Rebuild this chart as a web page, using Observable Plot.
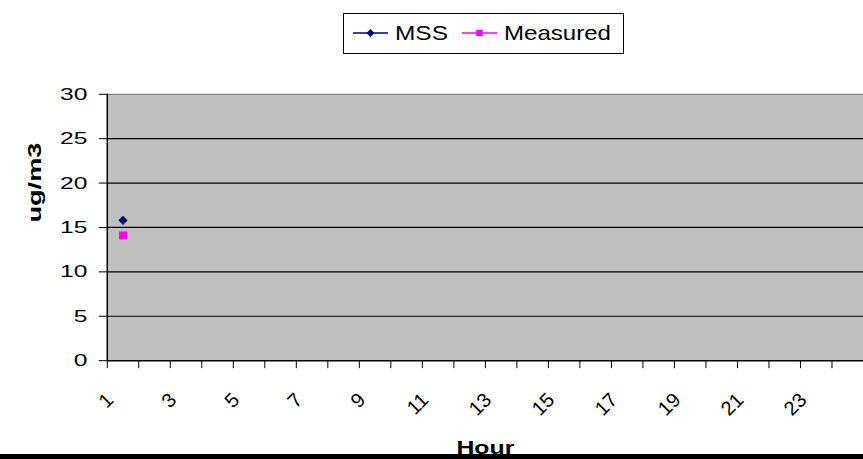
<!DOCTYPE html>
<html><head><meta charset="utf-8">
<script src="https://cdn.jsdelivr.net/npm/d3@7"></script>
<script src="https://cdn.jsdelivr.net/npm/@observablehq/plot@0.6"></script>
<style>
html,body{margin:0;padding:0;background:#fff;overflow:hidden;width:863px;height:459px}
#wrap{position:relative;width:863px;height:459px;overflow:hidden;font-family:'Liberation Sans',Arial,sans-serif}
#chart{position:absolute;left:0;top:0}
#legend{position:absolute;left:343px;top:13px}
#bar{position:absolute;left:0;top:454px;width:863px;height:5px;background:#000}
</style></head><body>
<div id="wrap"><div id="chart"></div><div id="legend"></div><div id="bar"></div></div>
<script>
const hours = [1,2,3,4,5,6,7,8,9,10,11,12,13,14,15,16,17,18,19,20,21,22,23,24];
const hourLabels = [1,3,5,7,9,11,13,15,17,19,21,23];
const yTicks = [0,5,10,15,20,25,30];
const seriesNames = ["MSS","Measured"];
const seriesColors = ["#000080","#ff00ff"];
const seriesSymbols = ["diamond2","square"];
const mssHours = [1];
const mssValues = [15.8];
const measuredHours = [1];
const measuredValues = [14.1];
const xLabel = "Hour";
const yLabel = "ug/m3";

const boundaries = hours.map(h => h - 0.5).concat([hours[hours.length-1] + 0.5]);
const mssData = mssHours.map((h,i) => ({hour:h, value:mssValues[i]}));
const measData = measuredHours.map((h,i) => ({hour:h, value:measuredValues[i]}));

const plot = Plot.plot({
  width: 865, height: 459,
  marginLeft: 107, marginRight: 0, marginTop: 94, marginBottom: 98,
  style: {fontFamily: "'Liberation Sans', Arial, sans-serif", background: "transparent", overflow: "visible", color: "#000"},
  x: {type: "linear", domain: [boundaries[0], boundaries[boundaries.length-1]]},
  y: {domain: [0, 30]},
  marks: [
    Plot.frame({fill: "#c0c0c0", stroke: null}),
    Plot.ruleY(yTicks.filter(v => v > 0 && v < 30), {stroke: "#000", strokeWidth: 1.2}),
    Plot.ruleY([30], {stroke: "#808080", strokeWidth: 1.2}),
    Plot.axisY({ticks: yTicks, tickSize: 8, tickPadding: 12, fontSize: 17, label: null}),
    Plot.axisX({ticks: boundaries, tickSize: 8, tickFormat: () => "", label: null}),
    Plot.ruleX([boundaries[0]], {stroke: "#000", strokeWidth: 1.5}),
    Plot.ruleY([0], {stroke: "#000", strokeWidth: 1.5}),
    Plot.text(hourLabels, {x: d => d, frameAnchor: "bottom", dy: 36, dx: -13, rotate: -45, textAnchor: "end", lineAnchor: "middle", fontSize: 20}),
    Plot.dot(mssData, {x: "hour", y: "value", symbol: () => seriesSymbols[0], r: 4.2, fill: seriesColors[0], stroke: null}),
    Plot.dot(measData, {x: "hour", y: "value", symbol: () => seriesSymbols[1], r: 4.5, fill: seriesColors[1], stroke: null}),
    Plot.text([xLabel], {frameAnchor: "bottom", dy: 94, fontWeight: "bold", fontSize: 18, lineAnchor: "bottom", className: "xlab"}),
    Plot.text([yLabel], {frameAnchor: "left", dx: -72, dy: -5, rotate: -90, fontWeight: "bold", fontSize: 18, className: "ylab"})
  ]
});
document.getElementById("chart").appendChild(plot);

// widen axis text to match the reference's stretched glyphs
d3.select(plot).selectAll('g[aria-label="y-axis tick label"] text').each(function() {
  const len = this.getComputedTextLength();
  this.setAttribute("textLength", len * 1.45);
  this.setAttribute("lengthAdjust", "spacingAndGlyphs");
});
d3.select(plot).selectAll('.xlab text').each(function() {
  this.setAttribute("textLength", 58);
  this.setAttribute("lengthAdjust", "spacingAndGlyphs");
});
d3.select(plot).selectAll('.ylab text').each(function() {
  this.setAttribute("textLength", 80);
  this.setAttribute("lengthAdjust", "spacingAndGlyphs");
});

// legend
const lg = d3.select("#legend").append("svg").attr("width", 282).attr("height", 42)
  .style("font-family", "'Liberation Sans', Arial, sans-serif");
lg.append("rect").attr("x", 0.5).attr("y", 0.5).attr("width", 280).attr("height", 40)
  .attr("fill", "#fff").attr("stroke", "#000");
const items = [
  {name: seriesNames[0], color: seriesColors[0], sym: d3.symbolDiamond2, size: 40, x0: 10, tw: 53},
  {name: seriesNames[1], color: seriesColors[1], sym: d3.symbolSquare, size: 42, x0: 119, tw: 107}
];
items.forEach(it => {
  lg.append("line").attr("x1", it.x0).attr("x2", it.x0 + 35).attr("y1", 20).attr("y2", 20)
    .attr("stroke", it.color).attr("stroke-width", 1.3);
  lg.append("path").attr("d", d3.symbol(it.sym, it.size)()).attr("transform", `translate(${it.x0 + 17.5},20)`)
    .attr("fill", it.color);
  lg.append("text").attr("x", it.x0 + 42).attr("y", 27).attr("font-size", 21).attr("fill", "#000")
    .attr("textLength", it.tw).attr("lengthAdjust", "spacingAndGlyphs").text(it.name);
});
</script>
</body></html>
